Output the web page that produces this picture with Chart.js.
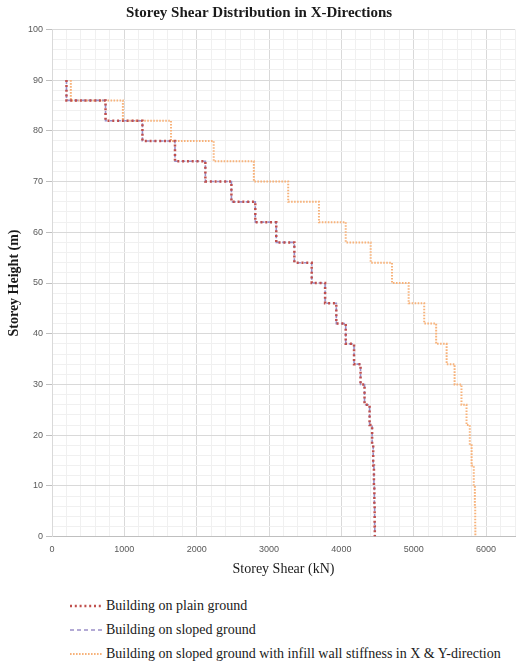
<!DOCTYPE html>
<html>
<head>
<meta charset="utf-8">
<script src="https://cdn.jsdelivr.net/npm/chart.js@4"></script>
<style>
  html, body { margin: 0; padding: 0; background: #fff; }
  #wrap { position: relative; width: 519px; height: 592px; }
  #legend { position: absolute; left: 70px; top: 594px; font: 14px "Liberation Serif", "Times New Roman", serif; color: #1a1a1a; }
  .item { display: flex; align-items: center; height: 24px; white-space: nowrap; }
  .item svg { margin-right: 4px; }
</style>
</head>
<body>
<div id="wrap"><canvas id="chart"></canvas></div>
<div id="legend"></div>
<script>
// Storey top levels (m); each storey value holds down to the next level, the last one down to the base.
const storeyLevels = [90, 86, 82, 78, 74, 70, 66, 62, 58, 54, 50, 46, 42, 38, 34, 30, 26, 22, 18, 14, 10, 6, 2];
const baseLevel = 0;

// Storey shear (kN) per storey, top to bottom
const plainShear  = [200, 740, 1250, 1700, 2120, 2480, 2810, 3100, 3350, 3590, 3775, 3930, 4060, 4175, 4265, 4320, 4390, 4425, 4440, 4450, 4456, 4460, 4462];
const slopedShear = [200, 740, 1250, 1700, 2120, 2480, 2810, 3100, 3350, 3590, 3775, 3930, 4060, 4175, 4265, 4320, 4390, 4425, 4440, 4450, 4456, 4460, 4462];
const infillShear = [260, 980, 1645, 2235, 2790, 3265, 3690, 4060, 4405, 4700, 4930, 5145, 5310, 5455, 5565, 5660, 5730, 5775, 5800, 5830, 5845, 5850, 5852];

const seriesLabels = [
  'Building on plain ground',
  'Building on sloped ground',
  'Building on sloped ground with infill wall stiffness in X & Y-direction'
];

const xTickLabels = [0, 1000, 2000, 3000, 4000, 5000, 6000];
const yTickLabels = [0, 10, 20, 30, 40, 50, 60, 70, 80, 90, 100];

// One point at the top of every storey plus the base; drawn with vertical-first steps
function storeyPoints(values) {
  const pts = storeyLevels.map((h, i) => ({ x: values[i], y: h }));
  pts.push({ x: values[values.length - 1], y: baseLevel });
  return pts;
}

const styles = [
  { color: '#c0504d', width: 2.5, dash: [2, 2.8] },
  { color: '#9a8fc8', width: 1.6, dash: [4, 3] },
  { color: '#f7b27a', width: 2, dash: [1.6, 1.4] }
];

const seriesValues = [plainShear, slopedShear, infillShear];

const isMajor = (v, list) => list.some(t => Math.abs(t - v) < 1e-6);

const serif = '"Liberation Serif", "Times New Roman", serif';
const sans = '"Liberation Sans", Arial, sans-serif';

const chart = new Chart(document.getElementById('chart'), {
  type: 'line',
  data: {
    datasets: seriesValues.map((vals, i) => ({
      label: seriesLabels[i],
      data: storeyPoints(vals),
      borderColor: styles[i].color,
      borderWidth: styles[i].width,
      borderDash: styles[i].dash,
      borderCapStyle: 'butt',
      borderJoinStyle: 'miter',
      stepped: 'after',
      pointRadius: 0,
      fill: false
    }))
  },
  options: {
    responsive: true,
    maintainAspectRatio: false,
    animation: false,
    devicePixelRatio: 1,
    layout: { padding: { left: 0, right: 1, top: 0, bottom: 0 } },
    plugins: {
      legend: { display: false },
      tooltip: { enabled: false },
      title: {
        display: true,
        text: 'Storey Shear Distribution in X-Directions',
        color: '#1a1a1a',
        font: { family: serif, size: 15, weight: 'bold' },
        padding: { top: 4, bottom: 7.4 }
      }
    },
    scales: {
      x: {
        type: 'linear',
        min: 0,
        max: 6400,
        afterFit(s) { s.height = 55.4; },
        ticks: {
          stepSize: 200,
          autoSkip: false,
          maxRotation: 0,
          padding: 4,
          color: '#595959',
          font: { family: sans, size: 9 },
          callback: v => isMajor(v, xTickLabels) ? String(v) : ''
        },
        grid: {
          color: c => (c.tick && isMajor(c.tick.value, xTickLabels)) ? '#d9d9d9' : '#f0f0f0',
          tickLength: 4,
          tickColor: 'rgba(0,0,0,0)'
        },
        border: { color: '#bfbfbf' },
        title: {
          display: true,
          text: 'Storey Shear (kN)',
          color: '#1a1a1a',
          font: { family: serif, size: 14 },
          padding: { top: 0, bottom: 14.6 }
        }
      },
      y: {
        type: 'linear',
        min: 0,
        max: 100,
        afterFit(s) { s.width = 52; },
        ticks: {
          stepSize: 2,
          autoSkip: false,
          padding: 3,
          color: '#595959',
          font: { family: sans, size: 9 },
          callback: v => isMajor(v, yTickLabels) ? String(v) : ''
        },
        grid: {
          color: c => (c.tick && isMajor(c.tick.value, yTickLabels)) ? '#d9d9d9' : '#f0f0f0',
          tickLength: 6,
          tickColor: c => (c.tick && isMajor(c.tick.value, yTickLabels)) ? '#bfbfbf' : 'rgba(0,0,0,0)'
        },
        border: { color: '#d9d9d9' },
        title: {
          display: true,
          text: 'Storey Height (m)',
          color: '#1a1a1a',
          font: { family: serif, size: 14, weight: 'bold' },
          padding: { top: 6, bottom: 0 }
        }
      }
    }
  }
});

// Legend below the chart, one series per line
const legend = document.getElementById('legend');
chart.data.datasets.forEach((ds) => {
  const row = document.createElement('div');
  row.className = 'item';
  const svgNS = 'http://www.w3.org/2000/svg';
  const svg = document.createElementNS(svgNS, 'svg');
  svg.setAttribute('width', '32');
  svg.setAttribute('height', '10');
  const line = document.createElementNS(svgNS, 'line');
  line.setAttribute('x1', '0');
  line.setAttribute('x2', '32');
  line.setAttribute('y1', '5');
  line.setAttribute('y2', '5');
  line.setAttribute('stroke', ds.borderColor);
  line.setAttribute('stroke-width', String(ds.borderWidth));
  line.setAttribute('stroke-dasharray', ds.borderDash.join(' '));
  svg.appendChild(line);
  const text = document.createElement('span');
  text.textContent = ds.label;
  row.appendChild(svg);
  row.appendChild(text);
  legend.appendChild(row);
});
</script>
</body>
</html>
